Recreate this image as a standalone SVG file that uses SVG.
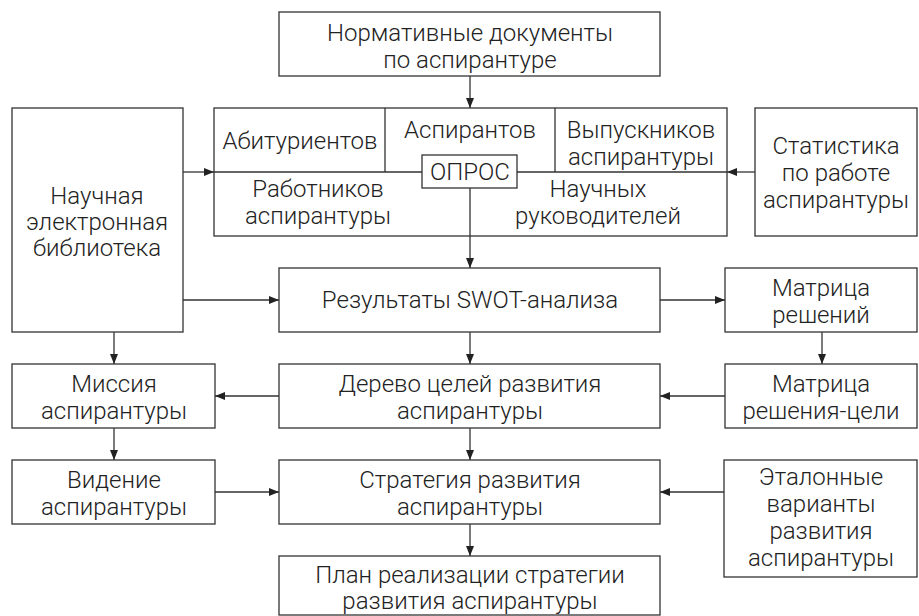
<svg xmlns="http://www.w3.org/2000/svg" width="919" height="616" viewBox="0 0 919 616">
<defs>
<marker id="ah" markerWidth="10" markerHeight="10" refX="10" refY="5" orient="auto" markerUnits="userSpaceOnUse">
<path d="M0,1 L10,5 L0,9 Z" fill="#222"/>
</marker>
<style>
.box{fill:#fff;stroke:#333;stroke-width:1.3}
.ln{fill:none;stroke:#333;stroke-width:1.3}
.c{fill:none;stroke:#333;stroke-width:1.3;marker-end:url(#ah)}
text{font-family:Roboto,"Liberation Sans",sans-serif;font-size:24px;font-weight:300;fill:#222;text-anchor:middle}
</style>
</defs>
<rect width="919" height="616" fill="#fff"/>
<g id="connectors">
<path class="c" d="M470,76 V108"/>
<path class="c" d="M183,172 H214"/>
<path class="c" d="M755,172 H727"/>
<path class="c" d="M470,236 V268"/>
<path class="c" d="M183,300 H279"/>
<path class="c" d="M660,300 H725"/>
<path class="c" d="M114,332 V364"/>
<path class="c" d="M822,332 V364"/>
<path class="c" d="M279,396 H215"/>
<path class="c" d="M725,396 H660"/>
<path class="c" d="M470,332 V364"/>
<path class="c" d="M114,428 V460"/>
<path class="c" d="M470,428 V460"/>
<path class="c" d="M215,492 H279"/>
<path class="c" d="M724,492 H660"/>
<path class="c" d="M470,524 V556"/>
</g>
<g id="normdocs">
<rect class="box" x="279" y="12" width="381" height="64"/>
<text x="470" y="41">Нормативные документы</text>
<text x="470" y="68">по аспирантуре</text>
</g>
<g id="survey">
<rect class="box" x="214" y="108" width="513" height="128"/>
<path class="ln" d="M214,172 H727 M385,108 V172 M555,108 V172 M470,172 V236"/>
<text x="300" y="149">Абитуриентов</text>
<text x="470" y="138">Аспирантов</text>
<text x="641" y="138">Выпускников</text>
<text x="641" y="165">аспирантуры</text>
<text x="318" y="197">Работников</text>
<text x="318" y="224">аспирантуры</text>
<text x="598" y="197">Научных</text>
<text x="598" y="224">руководителей</text>
</g>
<g id="opros">
<rect class="box" x="422" y="155" width="95" height="33"/>
<text x="470" y="180">ОПРОС</text>
</g>
<g id="library">
<rect class="box" x="12" y="108" width="171" height="224"/>
<text x="97" y="204">Научная</text>
<text x="97" y="230">электронная</text>
<text x="97" y="256">библиотека</text>
</g>
<g id="stats">
<rect class="box" x="755" y="108" width="162" height="128"/>
<text x="836" y="154">Статистика</text>
<text x="836" y="181">по работе</text>
<text x="836" y="208">аспирантуры</text>
</g>
<g id="swot">
<rect class="box" x="279" y="268" width="381" height="64"/>
<text x="470" y="308">Результаты SWOT-анализа</text>
</g>
<g id="matrix1">
<rect class="box" x="725" y="268" width="192" height="64"/>
<text x="821" y="296">Матрица</text>
<text x="821" y="323">решений</text>
</g>
<g id="mission">
<rect class="box" x="12" y="364" width="203" height="64"/>
<text x="114" y="392">Миссия</text>
<text x="114" y="419">аспирантуры</text>
</g>
<g id="tree">
<rect class="box" x="279" y="364" width="381" height="64"/>
<text x="470" y="392">Дерево целей развития</text>
<text x="470" y="419">аспирантуры</text>
</g>
<g id="matrix2">
<rect class="box" x="725" y="364" width="192" height="64"/>
<text x="821" y="392">Матрица</text>
<text x="821" y="419">решения-цели</text>
</g>
<g id="vision">
<rect class="box" x="12" y="460" width="203" height="64"/>
<text x="114" y="488">Видение</text>
<text x="114" y="515">аспирантуры</text>
</g>
<g id="strategy">
<rect class="box" x="279" y="460" width="381" height="64"/>
<text x="470" y="488">Стратегия развития</text>
<text x="470" y="515">аспирантуры</text>
</g>
<g id="etalon">
<rect class="box" x="724" y="460" width="193" height="117"/>
<text x="821" y="485">Эталонные</text>
<text x="821" y="512">варианты</text>
<text x="821" y="539">развития</text>
<text x="821" y="566">аспирантуры</text>
</g>
<g id="plan">
<rect class="box" x="279" y="556" width="381" height="59"/>
<text x="470" y="583">План реализации стратегии</text>
<text x="470" y="609">развития аспирантуры</text>
</g>
</svg>
